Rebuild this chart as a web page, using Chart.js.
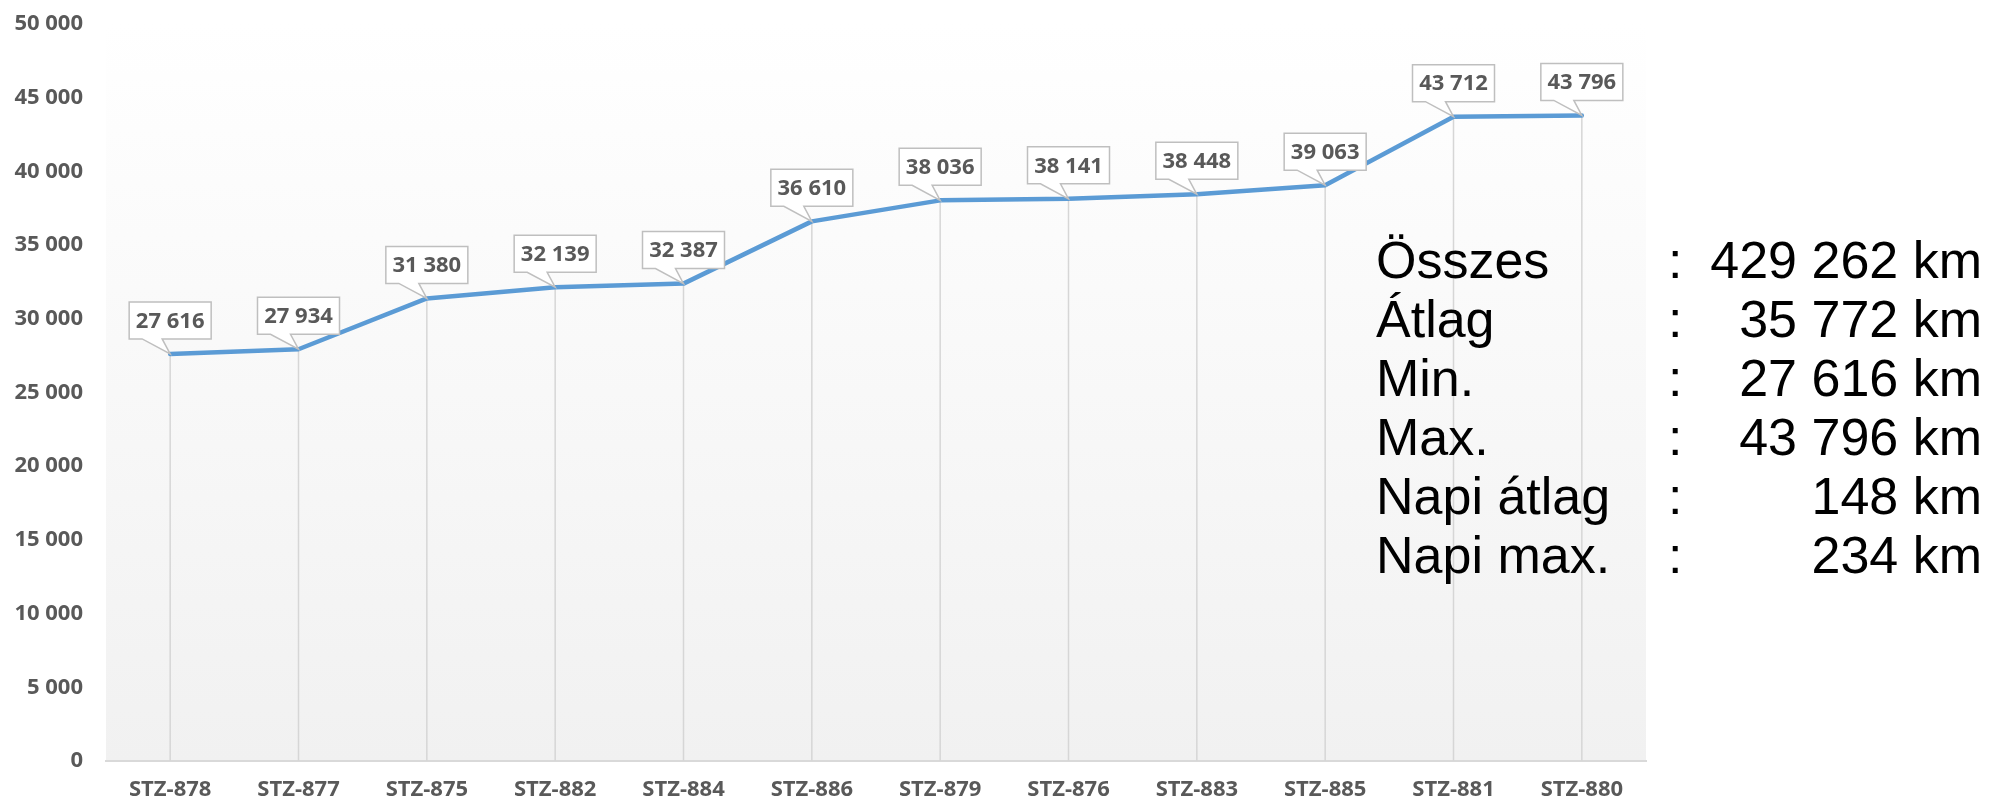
<!DOCTYPE html>
<html>
<head>
<meta charset="utf-8">
<script src="https://cdn.jsdelivr.net/npm/chart.js@4/dist/chart.umd.min.js"></script>
<style>
  body{margin:0;background:#fff;}
  #wrap{position:relative;width:1989px;height:802px;}
  #stats{position:absolute;left:0;top:231px;font-family:"Liberation Sans",Arial,sans-serif;font-size:52px;line-height:59px;color:#000;}
  .row{position:absolute;left:0;width:1989px;height:59px;white-space:nowrap;}
  .lab{position:absolute;left:1376px;}
  .col{position:absolute;left:1668px;}
  .val{position:absolute;right:7px;}
</style>
</head>
<body>
<div id="wrap">
  <canvas id="chart"></canvas>
  <div id="stats"></div>
</div>
<script>
// -------- DATA --------
const cars = ["STZ-878","STZ-877","STZ-875","STZ-882","STZ-884","STZ-886","STZ-879","STZ-876","STZ-883","STZ-885","STZ-881","STZ-880"];
const km = [27616,27934,31380,32139,32387,36610,38036,38141,38448,39063,43712,43796];
const statLabels = ["Összes","Átlag","Min.","Max.","Napi átlag","Napi max."];
const statValues = ["429 262 km","35 772 km","27 616 km","43 796 km","148 km","234 km"];

const fmt = v => String(v).replace(/\B(?=(\d{3})+(?!\d))/g," ");

// -------- STATS TEXT --------
const stats = document.getElementById("stats");
statLabels.forEach((l,i)=>{
  const div = document.createElement("div");
  div.className = "row";
  div.style.top = (i*59)+"px";
  div.innerHTML = `<span class="lab">${l}</span><span class="col">:</span><span class="val">${statValues[i]}</span>`;
  stats.appendChild(div);
});

// -------- PLUGINS --------
const plotBg = {
  id:"plotBg",
  beforeDraw(c){
    const {ctx,chartArea:a} = c;
    const g = ctx.createLinearGradient(0,a.top,0,a.bottom);
    g.addColorStop(0,"#ffffff");
    g.addColorStop(1,"#f1f1f1");
    ctx.save();
    ctx.fillStyle = g;
    ctx.fillRect(a.left,a.top,a.right-a.left,a.bottom-a.top);
    ctx.restore();
  },
  beforeDatasetsDraw(c){
    // drop lines
    const {ctx,chartArea:a} = c;
    ctx.save();
    ctx.strokeStyle = "#d6d6d6";
    ctx.lineWidth = 1.5;
    c.getDatasetMeta(0).data.forEach(p=>{
      ctx.beginPath();
      ctx.moveTo(p.x,p.y);
      ctx.lineTo(p.x,a.bottom);
      ctx.stroke();
    });
    ctx.restore();
  }
};

const callouts = {
  id:"callouts",
  afterDatasetsDraw(c){
    const ctx = c.ctx;
    ctx.save();
    ctx.font = "bold 22px 'Open Sans'";
    ctx.textAlign = "center";
    ctx.textBaseline = "middle";
    c.getDatasetMeta(0).data.forEach((p,i)=>{
      const w = 82, h = 37;
      const L = p.x - w/2, R = p.x + w/2;
      const B = p.y - 15, T = B - h;
      ctx.beginPath();
      ctx.moveTo(L,T);
      ctx.lineTo(R,T);
      ctx.lineTo(R,B);
      ctx.lineTo(p.x-8,B);
      ctx.lineTo(p.x,p.y);
      ctx.lineTo(p.x-28,B);
      ctx.lineTo(L,B);
      ctx.closePath();
      ctx.fillStyle = "#ffffff";
      ctx.fill();
      ctx.strokeStyle = "#bfbfbf";
      ctx.lineWidth = 1.5;
      ctx.stroke();
      ctx.fillStyle = "#595959";
      ctx.fillText(fmt(km[i]),p.x,(T+B)/2+1);
    });
    ctx.restore();
  }
};

// -------- CHART --------
const tickFont = {family:"'Open Sans'",size:22,weight:"bold"};

new Chart(document.getElementById("chart"),{
  type:"line",
  data:{
    labels:cars,
    datasets:[{
      data:km,
      borderColor:"#5b9bd5",
      borderWidth:4.5,
      pointRadius:0,
      tension:0,
      borderCapStyle:"round",
      borderJoinStyle:"round"
    }]
  },
  options:{
    responsive:true,
    maintainAspectRatio:false,
    animation:false,
    layout:{padding:{top:24,right:343,bottom:0,left:0}},
    plugins:{legend:{display:false},tooltip:{enabled:false}},
    scales:{
      x:{
        offset:true,
        grid:{display:false,drawTicks:false},
        border:{display:true,color:"#d9d9d9",width:2},
        ticks:{color:"#595959",font:tickFont,padding:16,maxRotation:0},
        afterFit(s){ s.height = 41; s.paddingLeft = 0; s.paddingRight = 0; }
      },
      y:{
        min:0,max:50000,
        grid:{display:false,drawTicks:false},
        border:{display:false},
        ticks:{stepSize:5000,color:"#595959",font:tickFont,padding:23,callback:v=>fmt(v)},
        afterFit(s){ s.width = 106; s.paddingTop = 0; s.paddingBottom = 0; }
      }
    }
  },
  plugins:[plotBg,callouts]
});
</script>
</body>
</html>
